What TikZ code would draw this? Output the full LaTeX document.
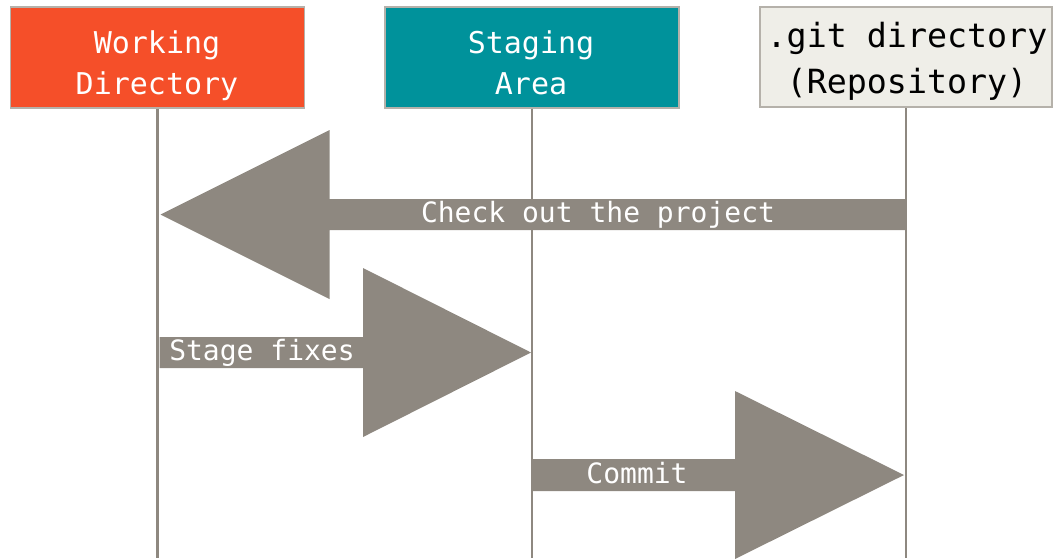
\documentclass[tikz,border=0pt]{standalone}
\usepackage{fontspec}
\setmonofont{DejaVu Sans Mono}
\usetikzlibrary{calc}
\definecolor{gitorange}{HTML}{F54F29}
\definecolor{gitteal}{HTML}{00929B}
\definecolor{gitgray}{HTML}{8E8880}
\definecolor{gitpaper}{HTML}{EFEEE8}
\definecolor{gitedge}{HTML}{B5B1AA}
\begin{document}
\begin{tikzpicture}[x=1pt,y=-1pt,
  box/.style={draw=gitedge, line width=1.2pt, minimum width=294pt, minimum height=101pt, inner sep=0pt},
  boxtext/.style={inner sep=0pt, align=center, text=white, font=\ttfamily\fontsize{30}{41}\selectfont},
  life/.style={draw=gitgray, line width=2.4pt},
  bigarrow/.style={fill=gitgray},
  alabel/.style={text=white, font=\ttfamily\fontsize{28}{34}\selectfont, inner sep=0pt, anchor=base}]
\useasboundingbox (0,0) rectangle (1056,558);
% boxes
\node[box, fill=gitorange] (wd) at (157.5,57.5) {};
\node[boxtext] (wd-t) at (157,65.3) {\strut Working\\Directory\strut};
\node[box, fill=gitteal] (sa) at (532,57.5) {};
\node[boxtext] (sa-t) at (531,65.3) {\strut Staging\\Area\strut};
\node[box, fill=gitpaper, line width=2pt, minimum width=292pt, minimum height=100pt] (git) at (906,57) {};
\node[boxtext, text=black, font=\ttfamily\fontsize{33.3}{46}\selectfont] (git-t) at (907,60.8)
  {\strut .git directory\\(Repository)\strut};
% lifelines
\draw[life] (wd.south) -- (wd.south |- 0,558);
\draw[life] (sa.south) -- (sa.south |- 0,558);
\draw[life] (git.south) -- (git.south |- 0,558);
% check out arrow
\coordinate (co-tail) at ($(git.south |- 0,214.5)+(-1,0)$);
\coordinate (co-tip) at ($(wd.south |- 0,214.5)+(3,0)$);
\fill[bigarrow] ($(co-tail)+(0,-15.5)$) -- ($(co-tip)+(169,-15.5)$) -- ($(co-tip)+(169,-84.5)$)
  -- (co-tip) -- ($(co-tip)+(169,84.5)$) -- ($(co-tip)+(169,15.5)$) -- ($(co-tail)+(0,15.5)$) -- cycle;
\node[alabel] (co-lbl) at (598,222) {Check out the project};
% stage fixes arrow
\coordinate (sf-tail) at ($(wd.south |- 0,352.5)+(2,0)$);
\coordinate (sf-tip) at ($(sa.south |- 0,352.5)+(-1,0)$);
\fill[bigarrow] ($(sf-tail)+(0,-15.5)$) -- ($(sf-tip)+(-168,-15.5)$) -- ($(sf-tip)+(-168,-84.5)$)
  -- (sf-tip) -- ($(sf-tip)+(-168,84.5)$) -- ($(sf-tip)+(-168,15.5)$) -- ($(sf-tail)+(0,15.5)$) -- cycle;
\node[alabel] (sf-lbl) at (262,360) {Stage fixes};
% commit arrow
\coordinate (cm-tail) at ($(sa.south |- 0,475)+(0,0)$);
\coordinate (cm-tip) at ($(git.south |- 0,475)+(-2,0)$);
\fill[bigarrow] ($(cm-tail)+(0,-16)$) -- ($(cm-tip)+(-169,-16)$) -- ($(cm-tip)+(-169,-84)$)
  -- (cm-tip) -- ($(cm-tip)+(-169,84)$) -- ($(cm-tip)+(-169,16)$) -- ($(cm-tail)+(0,16)$) -- cycle;
\node[alabel] (cm-lbl) at (637,483) {Commit};
\end{tikzpicture}
\end{document}
